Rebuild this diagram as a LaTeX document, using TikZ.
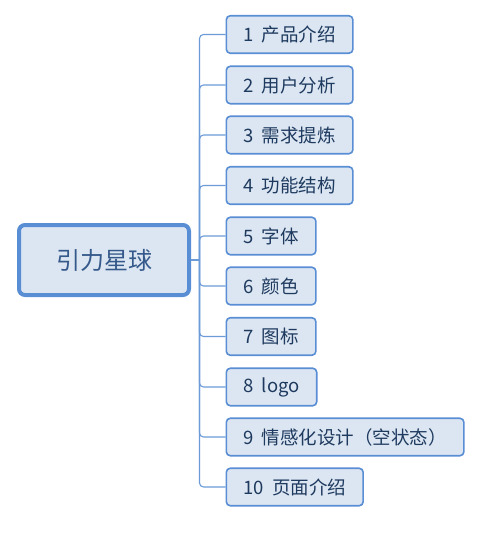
\documentclass[tikz,border=0pt]{standalone}
\usepackage{fontspec}
\setmainfont{Noto Sans CJK SC}
\definecolor{bordc}{HTML}{5A8ED4}
\definecolor{fillc}{HTML}{DCE6F2}
\definecolor{textc}{HTML}{1E3A5F}
\definecolor{roottext}{HTML}{35598A}
\definecolor{linec}{HTML}{6C9BD8}
\newcommand{\gap}{\hspace{0.45em}}
\tikzset{
  rootbox/.style={draw=bordc, line width=4pt, fill=fillc, rounded corners=6pt,
    minimum width=170pt, minimum height=70pt, text=roottext, font=\fontsize{24pt}{28pt}\selectfont},
  childbox/.style={draw=bordc, line width=1.6pt, fill=fillc, rounded corners=4pt,
    anchor=west, inner xsep=17pt, inner ysep=0pt, minimum height=37.5pt,
    text=textc, font=\fontsize{18.5pt}{22pt}\selectfont},
  conn/.style={draw=linec, line width=1.1pt},
  branch/.style={conn, rounded corners=4pt}
}
\begin{document}
\begin{tikzpicture}[x=1pt,y=-1pt]
\useasboundingbox (0,0) rectangle (479,540);
\node[rootbox] (root) at (104,260) {引力星球};
\coordinate (hub) at (199.5,260);
\node[childbox] (c1) at (225.5,34.5) {1\gap 产品介绍};
\node[childbox] (c2) at (225.5,85) {2\gap 用户分析};
\node[childbox] (c3) at (225.5,135) {3\gap 需求提炼};
\node[childbox] (c4) at (225.5,185.5) {4\gap 功能结构};
\node[childbox] (c5) at (225.5,236) {5\gap 字体};
\node[childbox] (c6) at (225.5,286) {6\gap 颜色};
\node[childbox] (c7) at (225.5,336.5) {7\gap 图标};
\node[childbox] (c8) at (225.5,387) {8\gap logo};
\node[childbox] (c9) at (225.5,437) {9\gap 情感化设计（空状态）};
\node[childbox] (c10) at (225.5,487) {10\gap 页面介绍};
\draw[conn] (root.east) -- (hub);
\foreach \c in {c1,c2,c3,c4,c5,c6,c7,c8,c9,c10}
  \draw[branch] (hub) |- (\c.west);
\end{tikzpicture}
\end{document}
